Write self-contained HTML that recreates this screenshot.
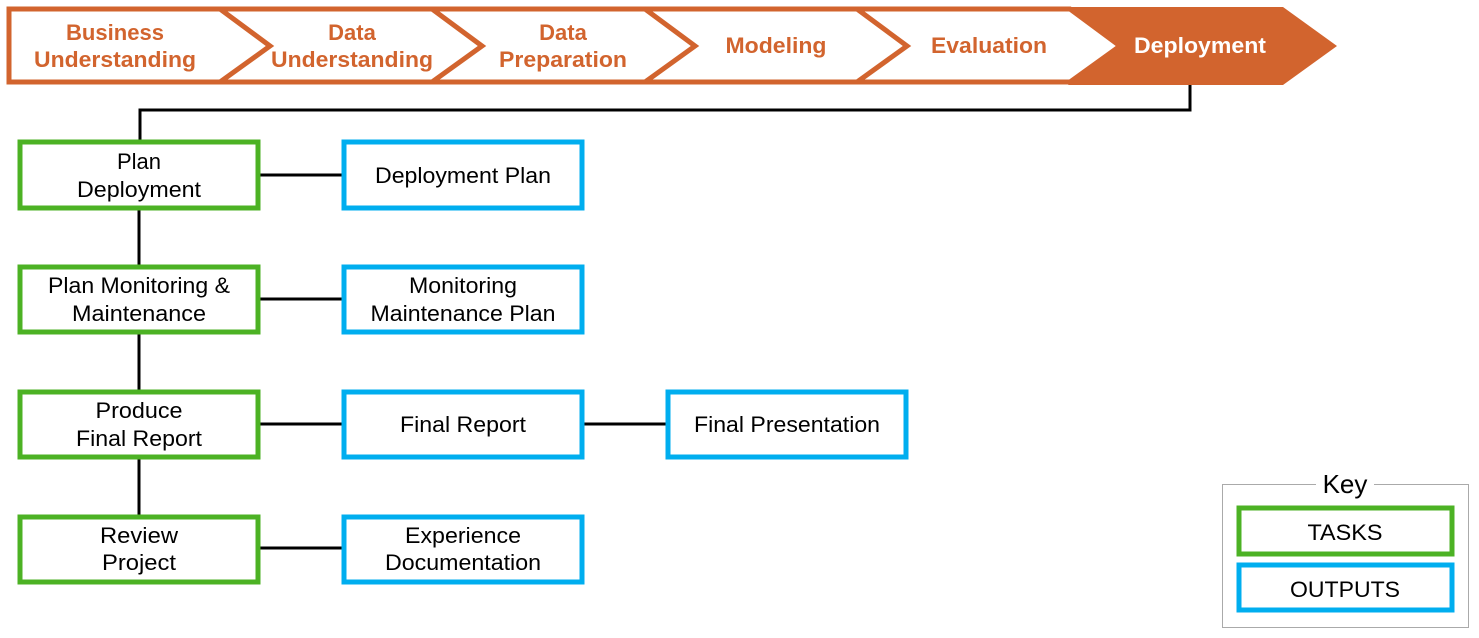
<!DOCTYPE html>
<html><head><style>body{margin:0;background:#fff}svg{display:block}</style></head><body>
<svg width="1479" height="638" xmlns="http://www.w3.org/2000/svg" font-family="Liberation Sans, Arial, sans-serif">
<g fill="#fff" stroke="#D2642E" stroke-width="5" stroke-linejoin="miter">
<polygon points="857,9 1070,9 1120,46 1070,82 857,82 904,46"/>
<polygon points="645,9 857,9 907,46 857,82 645,82 692,46"/>
<polygon points="432,9 645,9 695,46 645,82 432,82 479,46"/>
<polygon points="220,9 432,9 482,46 432,82 220,82 267,46"/>
<polygon points="9,9 220,9 270,46 220,82 9,82"/>
</g>
<polygon points="1068,7 1283,7 1337,46 1283,85 1068,85 1116,46" fill="#D2642E"/>
<g font-size="22" font-weight="bold" fill="#D2642E" text-anchor="middle">
<text x="115" y="40" textLength="98" lengthAdjust="spacingAndGlyphs">Business</text><text x="115" y="67" textLength="162" lengthAdjust="spacingAndGlyphs">Understanding</text>
<text x="352" y="40">Data</text><text x="352" y="67" textLength="162" lengthAdjust="spacingAndGlyphs">Understanding</text>
<text x="563" y="40">Data</text><text x="563" y="67" textLength="128" lengthAdjust="spacingAndGlyphs">Preparation</text>
<text x="776" y="53" textLength="101" lengthAdjust="spacingAndGlyphs">Modeling</text>
<text x="989" y="53" textLength="116" lengthAdjust="spacingAndGlyphs">Evaluation</text>
<text x="1200" y="53" fill="#fff" textLength="132" lengthAdjust="spacingAndGlyphs">Deployment</text>
</g>
<g stroke="#000" stroke-width="3" fill="none">
<polyline points="1190,85 1190,110 140,110 140,140"/>
<line x1="139" y1="210" x2="139" y2="265"/>
<line x1="139" y1="334" x2="139" y2="390"/>
<line x1="139" y1="459" x2="139" y2="515"/>
<line x1="260" y1="175" x2="342" y2="175"/>
<line x1="260" y1="299" x2="342" y2="299"/>
<line x1="260" y1="424" x2="342" y2="424"/>
<line x1="584" y1="424" x2="666" y2="424"/>
<line x1="260" y1="548" x2="342" y2="548"/>
</g>
<g fill="#fff" stroke-width="5">
<rect x="20" y="142" width="238" height="66" stroke="#4CB224"/>
<rect x="20" y="267" width="238" height="65" stroke="#4CB224"/>
<rect x="20" y="392" width="238" height="65" stroke="#4CB224"/>
<rect x="20" y="517" width="238" height="65" stroke="#4CB224"/>
<rect x="344" y="142" width="238" height="66" stroke="#00AEEF"/>
<rect x="344" y="267" width="238" height="65" stroke="#00AEEF"/>
<rect x="344" y="392" width="238" height="65" stroke="#00AEEF"/>
<rect x="668" y="392" width="238" height="65" stroke="#00AEEF"/>
<rect x="344" y="517" width="238" height="65" stroke="#00AEEF"/>
</g>
<rect x="1222.5" y="484.5" width="246" height="143" fill="none" stroke="#aaa" stroke-width="1"/>
<rect x="1316" y="472" width="58" height="24" fill="#fff"/>
<g fill="#fff" stroke-width="5">
<rect x="1239" y="508" width="213" height="46" stroke="#4CB224"/>
<rect x="1239" y="565" width="213" height="45" stroke="#00AEEF"/>
</g>
<g font-size="22" fill="#000" text-anchor="middle">
<text x="139" y="169">Plan</text><text x="139" y="197" textLength="124" lengthAdjust="spacingAndGlyphs">Deployment</text>
<text x="139" y="293" textLength="182" lengthAdjust="spacingAndGlyphs">Plan Monitoring &amp;</text><text x="139" y="321" textLength="134" lengthAdjust="spacingAndGlyphs">Maintenance</text>
<text x="139" y="418" textLength="87" lengthAdjust="spacingAndGlyphs">Produce</text><text x="139" y="446" textLength="126" lengthAdjust="spacingAndGlyphs">Final Report</text>
<text x="139" y="543" textLength="78" lengthAdjust="spacingAndGlyphs">Review</text><text x="139" y="570" textLength="74" lengthAdjust="spacingAndGlyphs">Project</text>
<text x="463" y="183" textLength="176" lengthAdjust="spacingAndGlyphs">Deployment Plan</text>
<text x="463" y="293" textLength="108" lengthAdjust="spacingAndGlyphs">Monitoring</text><text x="463" y="321" textLength="185" lengthAdjust="spacingAndGlyphs">Maintenance Plan</text>
<text x="463" y="432" textLength="126" lengthAdjust="spacingAndGlyphs">Final Report</text>
<text x="787" y="432" textLength="186" lengthAdjust="spacingAndGlyphs">Final Presentation</text>
<text x="463" y="543" textLength="116" lengthAdjust="spacingAndGlyphs">Experience</text><text x="463" y="570" textLength="156" lengthAdjust="spacingAndGlyphs">Documentation</text>
<text x="1345" y="540" textLength="75" lengthAdjust="spacingAndGlyphs">TASKS</text>
<text x="1345" y="597" textLength="110" lengthAdjust="spacingAndGlyphs">OUTPUTS</text>
<text x="1345" y="493" font-size="26">Key</text>
</g>
</svg>
</body></html>
